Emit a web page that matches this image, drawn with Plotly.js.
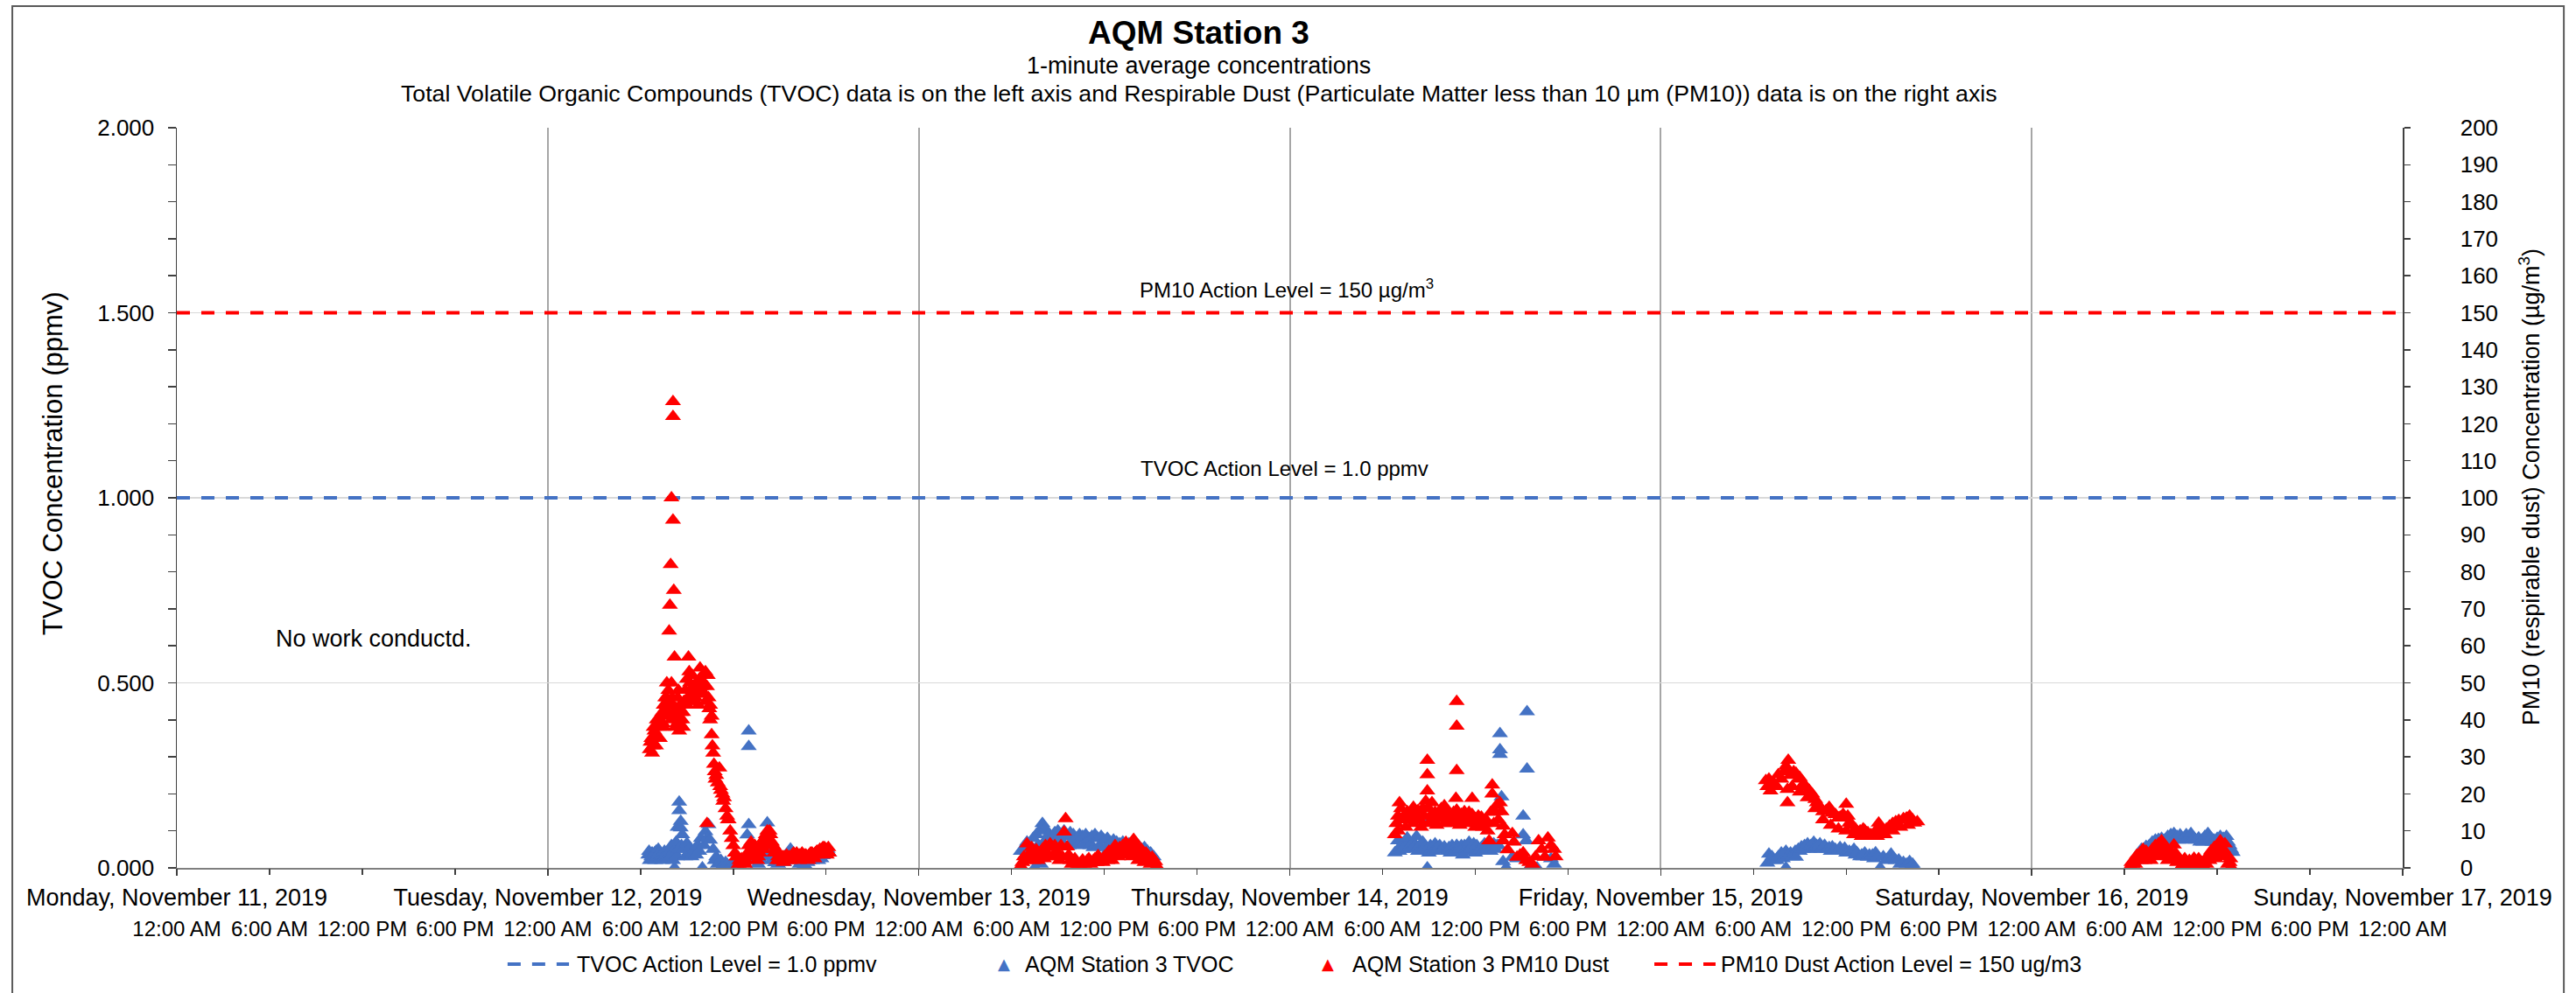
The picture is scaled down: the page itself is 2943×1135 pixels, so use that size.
<!DOCTYPE html>
<html>
<head>
<meta charset="utf-8">
<script src="https://cdn.plot.ly/plotly-3.0.1.min.js"></script>
<style>html,body{margin:0;padding:0;background:#fff}#chart{width:2943px;height:1135px}</style>
</head>
<body>
<div id="chart"></div>
<script>
// ---------- DATA (hours after Monday 2019-11-11 00:00, value) ----------
const dayLabels = ['Monday, November 11, 2019','Tuesday, November 12, 2019','Wednesday, November 13, 2019',
  'Thursday, November 14, 2019','Friday, November 15, 2019','Saturday, November 16, 2019','Sunday, November 17, 2019'];
const timeLabels = ['12:00 AM','6:00 AM','12:00 PM','6:00 PM'];
const tvocActionLevel = 1.0;   // ppmv
const pm10ActionLevel = 150;   // ug/m3

const tvocTue = [[30.5,.035],[30.55,.045],[30.6,.02],[30.7,.03],[30.75,.04],[30.8,.025],[30.9,.04],[30.95,.02],[31.0,.045],[31.1,.03],[31.15,.05],[31.2,.04],[31.3,.025],[31.35,.035],[31.4,.02],[31.5,.035],[31.55,.045],[31.6,.03],[31.7,.04],[31.75,.03],[31.8,.025],[31.9,.045],[31.95,.03],[32.0,.06],[32.1,.02],[32.15,.045],[32.2,0],[32.3,.07],[32.35,.03],[32.4,.11],[32.45,.05],[32.5,.178],[32.5,.155],[32.6,.126],[32.6,.108],[32.65,.06],[32.7,.09],[32.8,.05],[32.9,.03],[33.0,.066],[33.1,.04],[33.2,.055],[33.3,.03],[33.4,.04],[33.5,.051],[33.6,.035],[33.7,.061],[33.8,.045],[33.9,.08],[34.0,0],[34.1,.06],[34.2,.098],[34.3,.08],[34.4,.117],[34.5,.075],[34.7,.05],[34.8,.02],[34.9,.03],[35.0,.01],[35.2,.02],[35.3,.005],[35.5,.015],[35.6,.01],[35.8,.005],[36.0,.01],[36.2,.01],[36.3,.02],[36.5,.014],[36.7,.02],[36.9,.089],[37.0,.37],[37.0,.328],[37.0,.117],[37.2,.03],[37.3,.02],[37.6,.01],[37.8,.02],[38.0,.03],[38.1,.06],[38.2,.122],[38.3,.09],[38.4,.04],[38.5,.02],[38.7,.014],[38.9,.01],[39.1,.02],[39.3,.015],[39.4,.03],[39.6,.035],[39.7,.051],[39.9,.04],[40.0,.02],[40.2,.025],[40.3,.01],[40.5,.02],[40.6,.009],[40.8,.015],[40.9,.02],[41.1,.02],[41.2,.025],[41.4,.03],[41.5,.02],[41.7,.025],[41.8,.033],[41.9,.04],[42.0,.045],[42.1,.05],[42.2,.04]];
const tvocWed = [[54.6,.045],[54.8,.055],[54.9,.035],[55.0,.07],[55.1,.05],[55.2,.06],[55.3,.05],[55.4,.08],[55.5,0],[55.6,.09],[55.7,.06],[55.8,.1],[55.9,.01],[56.0,.12],[56.1,.07],[56.2,.105],[56.3,.07],[56.4,.09],[56.5,.06],[56.6,.08],[56.8,.095],[56.9,.065],[57.0,.1],[57.1,.07],[57.2,.09],[57.3,.07],[57.4,.1],[57.6,.085],[57.7,.06],[57.8,.095],[58.0,.09],[58.1,.065],[58.2,.08],[58.3,.06],[58.4,.09],[58.6,.085],[58.7,.065],[58.8,.09],[59.0,.08],[59.1,.06],[59.2,.085],[59.3,.055],[59.4,.09],[59.6,.08],[59.7,.06],[59.8,.085],[60.0,.075],[60.1,.055],[60.2,.08],[60.3,.05],[60.4,.07],[60.6,.075],[60.7,.055],[60.8,.07],[61.0,.065],[61.1,.05],[61.2,.07],[61.3,.045],[61.4,.06],[61.6,.065],[61.7,.04],[61.8,.06],[62.0,.055],[62.1,.04],[62.2,.06],[62.3,.035],[62.4,.05],[62.6,.055],[62.7,.03],[62.8,.045],[63.0,.04],[63.1,.02],[63.2,.03]];
const tvocThu = [[78.8,.041],[79.0,.073],[79.1,.045],[79.2,.06],[79.3,.05],[79.4,.07],[79.5,.06],[79.6,.081],[79.7,.05],[79.8,.06],[79.9,.055],[80.0,.07],[80.1,.06],[80.2,.085],[80.3,.045],[80.4,.06],[80.5,.05],[80.6,.07],[80.7,.055],[80.9,.121],[80.9,0],[81.0,.04],[81.1,.06],[81.2,.05],[81.3,.045],[81.4,.065],[81.5,.055],[81.6,.05],[81.7,.06],[81.8,.049],[81.9,.05],[82.0,.057],[82.1,.05],[82.2,.045],[82.3,.055],[82.4,.04],[82.5,.06],[82.6,.05],[82.7,.045],[82.8,.061],[82.9,.055],[83.0,.05],[83.1,.06],[83.2,.035],[83.3,.06],[83.4,.05],[83.5,.045],[83.6,.069],[83.7,.05],[83.8,.057],[83.9,.065],[84.0,.04],[84.1,.06],[84.2,.05],[84.3,.049],[84.4,.055],[84.5,.045],[84.6,.065],[84.7,.055],[84.8,.05],[84.9,.06],[85.0,.045],[85.1,.055],[85.2,.065],[85.3,.05],[85.4,.06],[85.5,.06],[85.6,.363],[85.6,.319],[85.6,.307],[85.7,.192],[85.8,.017],[86.0,0],[86.4,.029],[86.7,.025],[87.1,.14],[87.1,.089],[87.3,.073],[87.35,.422],[87.35,.267],[87.6,.006],[88.0,0],[88.5,.029],[88.9,.025],[89.1,.01]];
const tvocFri = [[102.9,.013],[103.0,.037],[103.2,.03],[103.3,.02],[103.5,.02],[103.6,.03],[103.8,.04],[103.9,.025],[104.1,.045],[104.1,0],[104.3,.035],[104.4,.04],[104.5,.03],[104.7,.045],[104.75,.029],[104.9,.05],[105.0,.045],[105.1,.057],[105.2,.05],[105.3,.06],[105.4,.055],[105.5,.065],[105.6,.05],[105.7,.06],[105.8,.055],[105.9,.069],[106.0,.05],[106.1,.06],[106.2,.055],[106.3,.065],[106.4,.05],[106.6,.061],[106.8,.05],[106.9,.055],[107.0,.045],[107.1,.057],[107.2,.05],[107.3,.05],[107.5,.045],[107.6,.055],[107.8,.045],[107.9,.053],[108.0,.04],[108.2,.045],[108.3,.04],[108.5,.05],[108.6,.035],[108.7,.041],[108.9,.03],[109.0,.035],[109.1,.03],[109.2,.04],[109.4,.029],[109.5,.035],[109.7,.035],[109.8,.025],[109.9,.041],[110.0,.03],[110.2,0],[110.4,.03],[110.6,.02],[110.7,.025],[110.9,.037],[111.0,.025],[111.2,.02],[111.4,.021],[111.5,.01],[111.7,.015],[111.9,.01],[112.1,.017],[112.2,.005],[112.3,.01],[112.4,0]];
const tvocSat = [[126.7,.02],[126.9,.03],[127.0,.038],[127.1,.05],[127.2,.045],[127.3,.04],[127.4,.058],[127.5,.05],[127.6,.06],[127.7,.055],[127.8,.07],[127.9,.06],[128.0,.075],[128.1,.065],[128.2,.077],[128.3,.07],[128.4,.08],[128.5,.07],[128.6,.075],[128.7,.075],[128.8,.085],[128.9,.08],[129.0,.09],[129.1,.08],[129.2,.093],[129.3,.08],[129.4,.085],[129.5,.075],[129.6,.089],[129.7,.08],[129.8,.08],[129.9,.075],[130.0,.09],[130.1,.08],[130.3,.093],[130.4,.08],[130.5,.08],[130.6,.075],[130.8,.081],[130.9,.07],[131.0,.075],[131.1,.07],[131.2,.085],[131.3,.075],[131.4,.093],[131.5,.08],[131.6,.08],[131.7,.07],[131.8,.075],[131.9,.07],[132.0,.08],[132.1,.075],[132.2,.085],[132.3,.07],[132.4,.08],[132.5,.075],[132.6,.085],[132.7,.07],[132.8,.06],[132.9,.05],[133.0,.042]];

const pm10Tue = [[30.6,32],[30.65,34],[30.7,35],[30.75,31],[30.8,33],[30.85,38],[30.9,37],[31.0,36],[31.0,33],[31.05,40],[31.1,39],[31.2,38],[31.25,35],[31.3,41],[31.4,42],[31.45,39],[31.5,44],[31.5,38],[31.6,43],[31.6,46],[31.7,46],[31.75,41],[31.75,42],[31.8,48],[31.9,45],[32.0,50],[32.0,40],[32.05,46],[32.1,44],[32.2,41],[32.25,38],[32.3,43],[32.35,39],[32.4,46],[32.45,48],[32.5,40],[32.5,37],[32.55,44],[32.6,42],[32.7,40],[32.75,38],[32.75,42],[32.8,45],[32.9,48],[33.0,51],[33.0,44],[33.05,46],[33.1,57],[33.15,53],[33.2,50],[33.25,45],[33.3,47],[33.35,52],[33.4,49],[33.5,48],[33.5,45],[33.55,46],[33.6,50],[33.7,47],[33.75,44],[33.8,51],[33.85,54],[33.9,49],[34.0,52],[34.0,47],[34.1,50],[34.15,47],[34.2,53],[34.25,45],[34.3,49],[34.35,52],[34.4,46],[34.45,43],[34.5,44],[34.5,40],[34.6,41],[34.6,36],[34.65,33],[34.7,31],[34.75,28],[34.8,26],[34.85,24],[34.9,25],[35.0,23],[35.1,27],[35.15,22],[35.2,21],[35.3,20],[35.35,18],[35.4,19],[35.5,16],[35.6,14],[35.65,13],[35.7,13],[35.8,10],[35.9,8],[36.0,6],[36.1,4],[36.2,3],[36.3,3],[36.35,1],[36.4,2],[36.5,2],[36.55,2.5],[36.6,1.5],[36.7,1.5],[36.75,1],[36.8,2],[36.9,3],[36.95,4],[37.0,6],[37.1,5],[37.15,7],[37.2,4],[37.3,3],[37.35,4.5],[37.4,6],[37.5,4],[37.55,2],[37.6,3],[37.7,4],[37.75,6],[37.8,5],[37.9,7],[37.95,5],[38.0,8],[38.1,9],[38.15,7],[38.2,10],[38.3,8],[38.35,10],[38.4,9],[38.45,6],[38.5,7],[38.6,6],[38.65,4],[38.7,5],[38.8,4],[38.85,2],[38.9,3],[39.0,2],[39.05,3.5],[39.1,2],[39.2,3],[39.25,1.5],[39.3,3],[39.4,2],[39.45,3.5],[39.5,2.5],[39.6,3],[39.65,2],[39.7,3],[39.8,3.5],[39.85,2.5],[39.9,4],[40.0,3.5],[40.05,2.5],[40.1,4],[40.2,3.5],[40.25,2],[40.3,3.5],[40.4,3],[40.45,4],[40.5,3],[40.6,3.5],[40.65,2.5],[40.7,3.5],[40.8,3],[40.85,2],[40.9,3.5],[41.0,4],[41.05,3],[41.1,4],[41.2,3.5],[41.25,2.5],[41.3,4],[41.4,4.5],[41.45,3.5],[41.5,4.5],[41.6,5],[41.65,4],[41.7,5],[41.8,5.5],[41.85,4.5],[41.9,5.5],[42.0,5],[42.05,3.5],[42.1,4.5],[42.15,5.5],[42.2,4],
  [32.1,126],[32.1,122],[32.0,100],[32.1,94],[31.95,82],[32.15,75],[31.9,71],[31.85,64],[32.2,57],[31.7,50],[34.3,12]];
const pm10Wed = [[54.6,.5],[54.7,1.5],[54.8,3],[54.9,2],[55.0,6.5],[55.1,3],[55.2,4],[55.3,5.5],[55.4,2],[55.5,3.5],[55.6,4.9],[55.7,2],[55.8,3],[55.9,4],[56.0,5],[56.1,2.5],[56.2,6],[56.3,4],[56.4,3],[56.5,6.5],[56.6,5.5],[56.7,3],[56.8,6],[56.9,4.5],[57.0,4],[57.1,2],[57.2,6],[57.3,3],[57.4,9.7],[57.5,13.3],[57.6,5.7],[57.7,3.5],[57.8,2],[57.9,1],[58.0,1.5],[58.1,2.5],[58.2,1.7],[58.3,1],[58.4,1],[58.5,1.5],[58.6,2.1],[58.7,1],[58.8,1.5],[58.9,2],[59.0,2.5],[59.1,1],[59.2,1.5],[59.3,2],[59.4,2.5],[59.5,1.5],[59.6,3.3],[59.7,2.5],[59.8,2],[59.9,1.5],[60.0,3],[60.1,2.5],[60.2,2],[60.3,4.5],[60.4,3],[60.5,2],[60.6,4],[60.7,6],[60.8,5],[60.9,3],[61.0,5.5],[61.1,4],[61.2,6],[61.3,3.5],[61.4,6.9],[61.5,4.5],[61.6,5],[61.7,6.5],[61.8,3],[61.9,7.7],[62.0,4.5],[62.1,6],[62.2,2],[62.3,4.1],[62.4,5],[62.5,3],[62.6,1.5],[62.7,4],[62.8,3.5],[62.9,2.9],[63.0,1],[63.1,2.9],[63.2,2],[63.3,1.7],[63.4,.5]];
const pm10Thu = [[78.8,9],[78.9,12],[79.0,14],[79.0,10],[79.1,17.6],[79.2,16],[79.3,13],[79.4,14],[79.5,11],[79.6,15.2],[79.8,13],[79.9,15],[80.0,16.4],[80.0,12],[80.1,13],[80.2,14],[80.3,15.5],[80.4,13],[80.5,11],[80.6,16],[80.7,14],[80.8,18],[80.9,20.8],[81.0,16],[81.0,12],[81.1,14],[81.2,17.6],[81.3,13],[81.4,15],[81.5,11.5],[81.6,14],[81.7,13.5],[81.8,16],[81.9,14],[82.0,16.8],[82.0,12],[82.1,15.5],[82.2,14.5],[82.3,12.5],[82.4,13.5],[82.5,12],[82.6,15],[82.7,13],[82.8,15.6],[82.9,14],[83.0,13.5],[83.0,11.5],[83.1,14.5],[83.2,12.5],[83.3,15.2],[83.4,13],[83.5,14],[83.5,12],[83.6,15],[83.7,12.5],[83.8,14.4],[83.9,13],[84.0,13],[84.0,11],[84.1,12],[84.2,14],[84.3,12.1],[84.4,13.7],[84.5,11],[84.6,12],[84.7,13],[84.8,10],[84.9,7.3],[85.0,15],[85.1,22.4],[85.1,20],[85.2,12],[85.3,15.2],[85.4,17],[85.5,13],[85.6,17.6],[85.7,15.2],[85.8,11.3],[85.8,7.3],[85.9,9],[86.1,4.9],[86.4,9.3],[86.5,7],[86.7,2.9],[86.9,3.5],[87.1,4.1],[87.3,2],[87.5,1.5],[87.7,1],[87.9,3],[88.1,7.3],[88.3,5],[88.5,2.9],[88.7,8.1],[88.9,6.1],[89.1,5],[89.2,3],
  [82.8,45],[82.8,38.3],[82.8,26.3],[80.9,29.1],[80.9,25.2],[82.75,18.8],[83.8,18.8]];
const pm10Fri = [[102.8,23.6],[102.9,22],[103.0,24],[103.1,20.8],[103.3,23],[103.5,22],[103.6,25.2],[103.8,24],[104.0,26],[104.1,27.5],[104.25,29.1],[104.25,26.3],[104.2,21.2],[104.2,17.6],[104.4,25],[104.5,22],[104.6,26],[104.75,25.6],[104.9,24],[105.0,24.4],[105.0,20.5],[105.2,22.5],[105.4,22],[105.5,19],[105.6,21],[105.8,20],[106.0,18.5],[106.0,16],[106.1,17.6],[106.3,16.5],[106.5,15.2],[106.5,13],[106.7,15.5],[106.9,16.4],[107.0,11.5],[107.1,14.8],[107.3,14.4],[107.5,13.5],[107.5,10.5],[107.6,13.7],[107.8,14.5],[108.0,17.2],[108.0,10],[108.1,14],[108.2,12.1],[108.4,11.5],[108.5,9],[108.6,10.5],[108.7,9.7],[108.9,10],[109.0,8.5],[109.1,10.5],[109.2,10.1],[109.4,9.5],[109.5,8.5],[109.6,9],[109.7,8.5],[109.9,10],[110.0,8.5],[110.1,12.1],[110.2,10.5],[110.4,9.3],[110.5,9],[110.6,10.5],[110.8,11.3],[111.0,12],[111.0,10],[111.2,12.5],[111.4,12.8],[111.5,11],[111.7,13.3],[111.9,13.5],[112.0,11.5],[112.1,14],[112.3,13],[112.4,12.1],[112.6,12.5]];
const pm10Sat = [[126.4,.5],[126.45,1.5],[126.5,1],[126.6,2],[126.7,1],[126.8,3.4],[126.9,2.5],[127.0,4],[127.05,2],[127.1,3],[127.2,5],[127.3,2],[127.4,4.5],[127.5,2.5],[127.6,3.8],[127.7,2],[127.8,5],[127.9,3.5],[128.0,6],[128.1,4],[128.2,6.5],[128.3,3],[128.4,7.3],[128.5,5],[128.6,6],[128.7,4],[128.8,2],[128.9,3],[129.0,4.5],[129.1,2.5],[129.2,6.2],[129.3,4],[129.4,1.5],[129.5,2],[129.6,1.8],[129.7,.5],[129.8,1],[129.9,2.5],[130.0,1.5],[130.1,1],[130.2,2],[130.3,1.4],[130.4,.5],[130.5,2.6],[130.6,1],[130.7,1.5],[130.8,2.5],[130.9,1],[131.0,1.5],[131.1,.5],[131.2,2.2],[131.3,1],[131.4,3],[131.5,2],[131.6,4.6],[131.7,3],[131.8,5.5],[131.9,2.5],[132.0,6],[132.1,4],[132.2,7.3],[132.3,3],[132.4,5],[132.5,6.5],[132.6,3.4],[132.7,1],[132.8,1.5],[132.85,2.5],[132.9,.2]];

// ---------- helpers ----------
const START = Date.UTC(2019, 10, 11);
const HOUR = 3600000;
function hToDate(h){ return new Date(START + h*HOUR).toISOString().slice(0,19).replace('T',' '); }
const xStart = hToDate(0), xEnd = hToDate(144);

const tvoc = [].concat(tvocTue, tvocWed, tvocThu, tvocFri, tvocSat);
const pm10 = [].concat(pm10Tue, pm10Wed, pm10Thu, pm10Fri, pm10Sat);

const dayTicks = dayLabels.map((_, i) => hToDate(i*24));
const sixTicks = [], sixText = [];
for (let i = 0; i <= 24; i++) { sixTicks.push(hToDate(i*6)); sixText.push(timeLabels[i % 4]); }

const BLUE = '#4472C4', RED = '#FF0000';
const FONT = 'Liberation Sans, Arial, sans-serif';

const traces = [
  {type:'scatter', mode:'lines', x:[xStart,xEnd], y:[tvocActionLevel,tvocActionLevel], xaxis:'x', yaxis:'y',
   line:{color:BLUE, width:4, dash:'15px,13px'}, name:'TVOC Action Level = 1.0 ppmv', hoverinfo:'skip'},
  {type:'scatter', mode:'markers', x:tvoc.map(p=>hToDate(p[0])), y:tvoc.map(p=>p[1]), xaxis:'x', yaxis:'y',
   marker:{symbol:'triangle-up', size:16, color:BLUE, line:{width:0}}, name:'AQM Station 3 TVOC'},
  {type:'scatter', mode:'markers', x:pm10.map(p=>hToDate(p[0])), y:pm10.map(p=>p[1]), xaxis:'x', yaxis:'y2',
   marker:{symbol:'triangle-up', size:16, color:RED, line:{width:0}}, name:'AQM Station 3 PM10 Dust'},
  {type:'scatter', mode:'lines', x:[xStart,xEnd], y:[pm10ActionLevel,pm10ActionLevel], xaxis:'x', yaxis:'y2',
   line:{color:RED, width:4, dash:'15px,13px'}, name:'PM10 Dust Action Level = 150 ug/m3', hoverinfo:'skip'},
  {type:'scatter', mode:'markers', x:[], y:[], xaxis:'x2', yaxis:'y', showlegend:false}
];

function ann(text, x, y, size, opts){
  return Object.assign({text:text, x:x, y:y, xref:'paper', yref:'paper', showarrow:false,
    font:{family:FONT, size:size, color:'#000'}, xanchor:'center', yanchor:'middle'}, opts||{});
}
const LY = -0.130;
const annotations = [
  ann('<b>AQM Station 3</b>', 0.4593, 1.1288, 37),
  ann('1-minute average concentrations', 0.4593, 1.0839, 27),
  ann('Total Volatile Organic Compounds (TVOC) data is on the left axis and Respirable Dust (Particulate Matter less than 10 µm (PM10)) data is on the right axis', 0.4593, 1.0461, 26.7),
  ann('TVOC Concentration (ppmv)', -0.0558, 0.546, 31, {textangle:-90}),
  ann('PM10 (respirable dust) Concentration (µg/m<sup>3</sup>)', 1.0570, 0.515, 27, {textangle:-90}),
  ann('PM10 Action Level = 150 µg/m<sup>3</sup>', 0.4986, 0.7825, 24),
  ann('TVOC Action Level = 1.0 ppmv', 0.4978, 0.540, 24),
  ann('No work conductd.', 0.0436, 0.3097, 27, {xanchor:'left'}),
  // custom legend
  ann('TVOC Action Level = 1.0 ppmv', 0.1789, LY, 25, {xanchor:'left'}),
  ann('▲', 0.3716, LY, 18, {font:{family:'DejaVu Sans', size:18, color:BLUE}}),
  ann('AQM Station 3 TVOC', 0.3803, LY, 25, {xanchor:'left'}),
  ann('▲', 0.5171, LY, 18, {font:{family:'DejaVu Sans', size:18, color:RED}}),
  ann('AQM Station 3 PM10 Dust', 0.5273, LY, 25, {xanchor:'left'}),
  ann('PM10 Dust Action Level = 150 ug/m3', 0.6929, LY, 25, {xanchor:'left'})
];
const shapes = [
  {type:'rect', xref:'paper', yref:'paper', x0:-0.0739, x1:1.0724, y0:-0.18, y1:1.1643,
   line:{color:'#595959', width:2}, fillcolor:'rgba(0,0,0,0)', layer:'below'},
  {type:'line', xref:'paper', yref:'paper', x0:0.1486, x1:0.1762, y0:LY, y1:LY, line:{color:BLUE, width:4, dash:'15px,13px'}},
  {type:'line', xref:'paper', yref:'paper', x0:0.6638, x1:0.6913, y0:LY, y1:LY, line:{color:RED, width:4, dash:'15px,13px'}}
];

const layout = {
  width:2943, height:1135,
  margin:{l:202, r:198, t:146, b:143, pad:0},
  paper_bgcolor:'#ffffff', plot_bgcolor:'#ffffff',
  font:{family:FONT, size:25, color:'#000'},
  showlegend:false,
  xaxis:{type:'date', range:[xStart,xEnd], tickmode:'array', tickvals:dayTicks, ticktext:dayLabels,
    ticks:'outside', ticklen:7, tickwidth:1.5, tickcolor:'#404040',
    showgrid:true, gridcolor:'#a6a6a6', gridwidth:2, zeroline:false,
    showline:true, linecolor:'#7f7f7f', linewidth:2, tickfont:{family:FONT, size:27, color:'#000'}, ticklabelstandoff:2},
  xaxis2:{type:'date', overlaying:'x', anchor:'y', side:'bottom', range:[xStart,xEnd], tickmode:'array',
    tickvals:sixTicks, ticktext:sixText, ticks:'outside', ticklen:7, tickwidth:1.5, tickcolor:'#404040',
    showgrid:false, showline:false, zeroline:false, tickfont:{family:FONT, size:24, color:'#000'}, ticklabelstandoff:41},
  yaxis:{range:[0,2], tickmode:'linear', tick0:0, dtick:0.5, tickformat:'.3f', ticks:'outside', ticklen:9,
    tickwidth:1.5, tickcolor:'#404040', showline:true, linecolor:'#404040', linewidth:1.5,
    showgrid:true, gridcolor:'#d9d9d9', gridwidth:1.5, zeroline:false, ticklabelstandoff:10,
    tickfont:{family:FONT, size:26, color:'#000'},
    minor:{tickmode:'linear', tick0:0, dtick:0.1, ticks:'outside', ticklen:9, tickwidth:1.5, tickcolor:'#404040', showgrid:false}},
  yaxis2:{overlaying:'y', side:'right', anchor:'x', range:[0,200], tickmode:'linear', tick0:0, dtick:10,
    ticks:'outside', ticklen:7, tickwidth:1.5, tickcolor:'#404040', showline:true, linecolor:'#404040', linewidth:1.5,
    showgrid:false, zeroline:false, ticklabelstandoff:52, tickfont:{family:FONT, size:26, color:'#000'}},
  shapes:shapes,
  annotations:annotations
};

Plotly.newPlot('chart', traces, layout, {displayModeBar:false, staticPlot:true});
</script>
</body>
</html>
